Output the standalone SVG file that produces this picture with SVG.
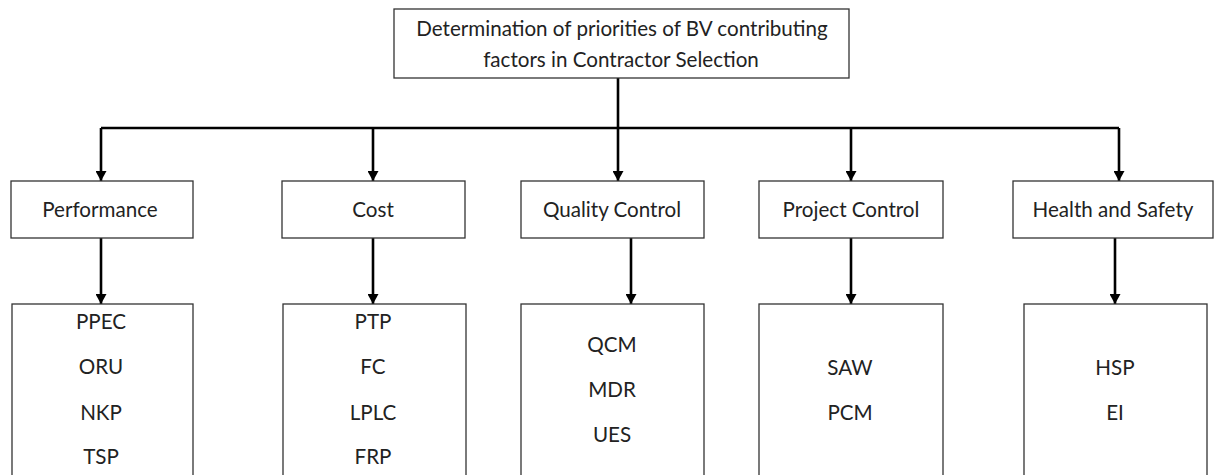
<svg xmlns="http://www.w3.org/2000/svg" width="1214" height="475" viewBox="0 0 1214 475">
  <defs>
    <marker id="arrow" markerUnits="userSpaceOnUse" markerWidth="11" markerHeight="11" refX="10" refY="5.5" orient="auto">
      <path d="M0,0 L10,5.5 L0,11 z" fill="#000"/>
    </marker>
    <style>
      .box { fill: #fff; stroke: #333; stroke-width: 1.3; }
      .lbl { font-family: Lato, "Open Sans", "Liberation Sans", sans-serif; font-size: 20.6px; fill: #222; text-anchor: middle; }
      .wire { fill: none; stroke: #000; stroke-width: 2.6; }
      .drop { fill: none; stroke: #000; stroke-width: 2.6; marker-end: url(#arrow); }
    </style>
  </defs>
  <rect width="1214" height="475" fill="#fff"/>

  <!-- connectors -->
  <g id="connectors">
    <path class="wire" d="M101 128 H1119"/>
    <path class="drop" d="M618 78 V181"/>
    <path class="drop" d="M101 128 V181"/>
    <path class="drop" d="M373 128 V181"/>
    <path class="drop" d="M851 128 V181"/>
    <path class="drop" d="M1119 128 V181"/>
    <path class="drop" d="M101 238 V304"/>
    <path class="drop" d="M373 238 V304"/>
    <path class="drop" d="M631 238 V304"/>
    <path class="drop" d="M851 238 V304"/>
    <path class="drop" d="M1115 238 V304"/>
  </g>

  <!-- goal -->
  <g id="goal">
    <rect class="box" x="394" y="9" width="455" height="69"/>
    <text class="lbl" x="622" y="36">Determination of priorities of BV contributing</text>
    <text class="lbl" x="621" y="67">factors in Contractor Selection</text>
  </g>

  <!-- criteria -->
  <g id="performance">
    <rect class="box" x="11" y="181" width="182" height="57"/>
    <text class="lbl" x="100" y="217">Performance</text>
  </g>
  <g id="cost">
    <rect class="box" x="282" y="181" width="183" height="57"/>
    <text class="lbl" x="373" y="217">Cost</text>
  </g>
  <g id="quality-control">
    <rect class="box" x="521" y="181" width="183" height="57"/>
    <text class="lbl" x="612" y="217">Quality Control</text>
  </g>
  <g id="project-control">
    <rect class="box" x="759" y="181" width="184" height="57"/>
    <text class="lbl" x="851" y="217">Project Control</text>
  </g>
  <g id="health-safety">
    <rect class="box" x="1013" y="181" width="200" height="57"/>
    <text class="lbl" x="1113" y="217">Health and Safety</text>
  </g>

  <!-- sub-factors -->
  <g id="performance-factors">
    <rect class="box" x="12" y="304" width="181" height="180"/>
    <text class="lbl" x="101" y="329">PPEC</text>
    <text class="lbl" x="101" y="374">ORU</text>
    <text class="lbl" x="101" y="420">NKP</text>
    <text class="lbl" x="101" y="464">TSP</text>
  </g>
  <g id="cost-factors">
    <rect class="box" x="283" y="304" width="183" height="180"/>
    <text class="lbl" x="373" y="329">PTP</text>
    <text class="lbl" x="373" y="374">FC</text>
    <text class="lbl" x="373" y="420">LPLC</text>
    <text class="lbl" x="373" y="464">FRP</text>
  </g>
  <g id="quality-factors">
    <rect class="box" x="521" y="304" width="183" height="180"/>
    <text class="lbl" x="612" y="352">QCM</text>
    <text class="lbl" x="612" y="397">MDR</text>
    <text class="lbl" x="612" y="442">UES</text>
  </g>
  <g id="project-factors">
    <rect class="box" x="759" y="304" width="184" height="180"/>
    <text class="lbl" x="850" y="375">SAW</text>
    <text class="lbl" x="850" y="420">PCM</text>
  </g>
  <g id="health-factors">
    <rect class="box" x="1024" y="304" width="183" height="180"/>
    <text class="lbl" x="1115" y="375">HSP</text>
    <text class="lbl" x="1115" y="420">EI</text>
  </g>
</svg>
